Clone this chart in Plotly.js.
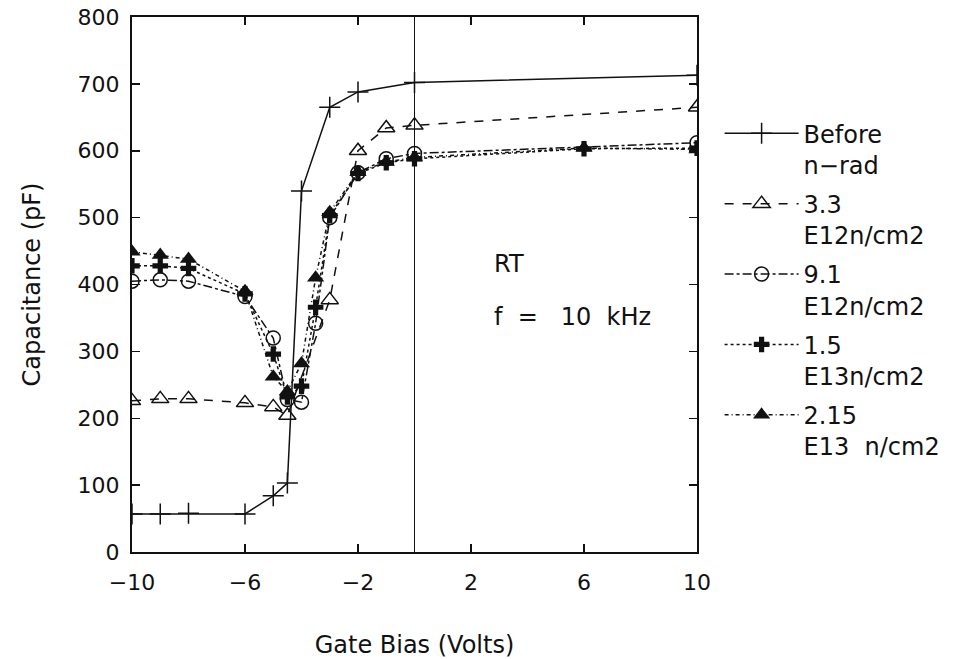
<!DOCTYPE html>
<html><head><meta charset="utf-8">
<script src="https://cdn.plot.ly/plotly-3.0.1.min.js"></script>
<style>html,body{margin:0;padding:0;background:#fff}</style>
</head><body><div id="chart" style="width:966px;height:659px"></div>
<script>
// Legend labels
const seriesNames = ["Before<br>n\u2212rad", "3.3<br>E12n/cm2", "9.1<br>E12n/cm2", "1.5<br>E13n/cm2", "2.15<br>E13\u00a0 n/cm2"];
// Gate bias (V) and capacitance (pF) per series
const xBefore = [-10, -9, -8, -6, -5, -4.5, -4, -3, -2, 0, 10];
const yBefore = [57, 57, 58, 57, 84, 103, 540, 665, 688, 702, 713];
const x33 = [-10, -9, -8, -6, -5, -4.5, -3, -2, -1, 0, 10];
const y33 = [226, 229, 229, 223, 217, 204, 377, 600, 634, 638, 665];
const x91 = [-10, -9, -8, -6, -5, -4.5, -4, -3.5, -3, -2, -1, 0, 10];
const y91 = [405, 407, 405, 382, 320, 228, 224, 342, 500, 567, 588, 596, 612];
const x15 = [-10, -9, -8, -6, -5, -4.5, -4, -3.5, -3, -2, -1, 0, 6, 10];
const y15 = [428, 428, 424, 386, 296, 232, 248, 366, 503, 566, 582, 588, 603, 604];
const x215 = [-10, -9, -8, -6, -5, -4.5, -4, -3.5, -3, -2, -1, 0, 6, 10];
const y215 = [449, 444, 438, 390, 262, 240, 282, 410, 508, 568, 583, 590, 604, 602];
// Axis ticks
const xTicks = [-10, -6, -2, 2, 6, 10];
const yTicks = [0, 100, 200, 300, 400, 500, 600, 700, 800];

const FONT = "DejaVu Sans, Liberation Sans, sans-serif";
const ink = "#111";

function tr(x, y, name, dash, symbol, msize, mline, group) {
  return {
    x: x, y: y, name: name, type: "scatter", mode: "lines+markers",
    legendgroup: group,
    line: {color: ink, width: 1.5, dash: dash},
    marker: {symbol: symbol, size: msize, color: ink, line: {color: ink, width: mline}}
  };
}

const data = [
  tr(xBefore, yBefore, seriesNames[0], "solid", "cross-thin-open", 15, 1.5, "a"),
  tr(x33, y33, seriesNames[1], "dash", "triangle-up-open", 15, 1.5, "b"),
  tr(x91, y91, seriesNames[2], "dashdot", "circle-open", 14, 1.5, "c"),
  tr(x15, y15, seriesNames[3], "dot", "cross", 13, 0, "d"),
  tr(x215, y215, seriesNames[4], "4px,3px,1px,3px", "triangle-up", 15, 0, "e")
];

const layout = {
  width: 966, height: 659,
  paper_bgcolor: "#fff", plot_bgcolor: "#fff",
  margin: {l: 132, r: 269, t: 17, b: 107},
  font: {family: FONT, size: 22, color: ink},
  showlegend: true,
  legend: {
    x: 1.04, xanchor: "left", y: 0.824, yanchor: "top",
    traceorder: "grouped", tracegroupgap: 5, valign: "top",
    itemwidth: 74, font: {family: FONT, size: 24, color: ink},
    bgcolor: "rgba(0,0,0,0)"
  },
  xaxis: {
    range: [-10, 10], tickvals: xTicks, ticks: "inside", ticklen: 8, tickwidth: 1.5,
    tickcolor: ink, showline: true, linecolor: ink, linewidth: 2, mirror: "ticks",
    showgrid: false, zeroline: true, zerolinecolor: ink, zerolinewidth: 1.5,
    ticklabelstandoff: 10,
    tickfont: {family: FONT, size: 22, color: ink},
    title: {text: "Gate Bias (Volts)", font: {family: FONT, size: 24, color: ink}, standoff: 42}
  },
  yaxis: {
    range: [0, 800], tickvals: yTicks, ticks: "inside", ticklen: 8, tickwidth: 1.5,
    tickcolor: ink, showline: true, linecolor: ink, linewidth: 2, mirror: "ticks",
    showgrid: false, zeroline: false,
    ticklabelstandoff: 6,
    tickfont: {family: FONT, size: 22, color: ink},
    title: {text: "Capacitance (pF)", font: {family: FONT, size: 24, color: ink}, standoff: 30}
  },
  annotations: [
    {x: 2.75, y: 431, xref: "x", yref: "y", text: "RT", showarrow: false, xanchor: "left",
     font: {family: FONT, size: 24, color: ink}},
    {x: 2.75, y: 351, xref: "x", yref: "y", text: "f\u00a0\u00a0=\u00a0\u00a0 10\u00a0\u00a0kHz", showarrow: false, xanchor: "left",
     font: {family: FONT, size: 24, color: ink}}
  ]
};

Plotly.newPlot("chart", data, layout, {staticPlot: true, displayModeBar: false});
</script></body></html>
